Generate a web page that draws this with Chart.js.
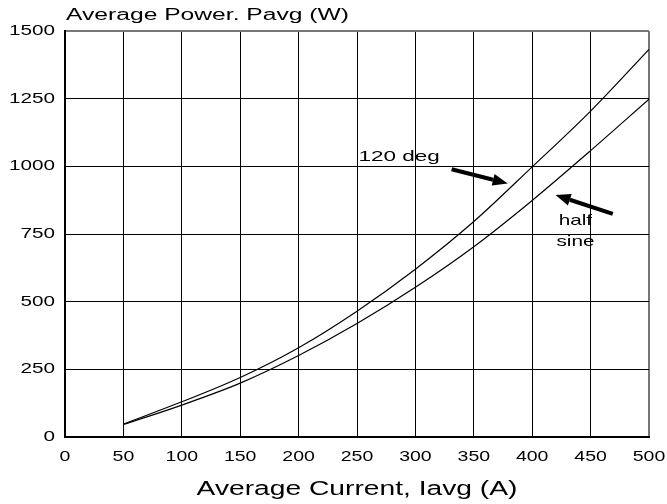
<!DOCTYPE html>
<html>
<head>
<meta charset="utf-8">
<script src="https://cdn.jsdelivr.net/npm/chart.js@4"></script>
<style>
  html, body { margin: 0; padding: 0; background: #fff; }
  #wrap { width: 667px; height: 504px; }
</style>
</head>
<body>
<div id="wrap"><canvas id="powerChart" width="667" height="504"></canvas></div>
<script>
// values
const currents = [50, 100, 150, 200, 250, 300, 350, 400, 450, 500];
const power120 = [48, 130, 220, 330, 465, 620, 796, 998, 1204, 1432];
const powerHalfSine = [46, 118, 199, 301, 419, 553, 703, 874, 1058, 1248];

const xTicks = [0, 50, 100, 150, 200, 250, 300, 350, 400, 450, 500];
const yTicks = [0, 250, 500, 750, 1000, 1250, 1500];

const yTitle = 'Average Power. Pavg (W)';
const xTitle = 'Average Current, Iavg (A)';

// annotation texts and arrows (in data units)
const notes = [
    { text: '120 deg', x: 286, y: 1034, sx: 1.5 },
    { text: 'half', x: 437, y: 797, sx: 1.38 },
    { text: 'sine', x: 437, y: 722, sx: 1.38 }
];
const arrows = [
    { from: [331, 989], to: [379, 937] },
    { from: [469, 824], to: [420, 894] }
];

const FONT = '"Liberation Sans", Arial, sans-serif';

// the original text is drawn wide, so stretch it horizontally
function wideText(ctx, text, x, y, size, sx, align) {
    ctx.save();
    ctx.font = size + 'px ' + FONT;
    ctx.textBaseline = 'middle';
    ctx.textAlign = 'left';
    ctx.fillStyle = '#000';
    const w = ctx.measureText(text).width * sx;
    let left = x;
    if (align === 'right') left = x - w;
    if (align === 'center') left = x - w / 2;
    ctx.translate(left, y);
    ctx.scale(sx, 1);
    ctx.fillText(text, 0, 0);
    ctx.restore();
}

function drawArrow(ctx, x1, y1, x2, y2) {
    const ang = Math.atan2(y2 - y1, x2 - x1);
    const headLen = 15, headW = 6;
    const bx = x2 - headLen * Math.cos(ang);
    const by = y2 - headLen * Math.sin(ang);
    ctx.save();
    ctx.strokeStyle = '#000';
    ctx.fillStyle = '#000';
    ctx.lineWidth = 4;
    ctx.beginPath();
    ctx.moveTo(x1, y1);
    ctx.lineTo(bx, by);
    ctx.stroke();
    ctx.beginPath();
    ctx.moveTo(x2, y2);
    ctx.lineTo(bx + headW * Math.sin(ang), by - headW * Math.cos(ang));
    ctx.lineTo(bx - headW * Math.sin(ang), by + headW * Math.cos(ang));
    ctx.closePath();
    ctx.fill();
    ctx.restore();
}

const textPlugin = {
    id: 'textPlugin',
    afterDraw(chart) {
        const ctx = chart.ctx;
        const xs = chart.scales.x;
        const ys = chart.scales.y;
        const area = chart.chartArea;

        yTicks.forEach(v => {
            wideText(ctx, String(v), area.left - 10, ys.getPixelForValue(v), 15, 1.38, 'right');
        });
        xTicks.forEach(v => {
            wideText(ctx, String(v), xs.getPixelForValue(v), area.bottom + 20, 15, 1.3, 'center');
        });

        wideText(ctx, yTitle, area.left + 1, area.top - 15, 16, 1.54, 'left');
        wideText(ctx, xTitle, (area.left + area.right) / 2, area.bottom + 52, 20, 1.41, 'center');

        notes.forEach(n => {
            wideText(ctx, n.text, xs.getPixelForValue(n.x), ys.getPixelForValue(n.y), 15, n.sx, 'center');
        });
        arrows.forEach(a => {
            drawArrow(ctx,
                xs.getPixelForValue(a.from[0]), ys.getPixelForValue(a.from[1]),
                xs.getPixelForValue(a.to[0]), ys.getPixelForValue(a.to[1]));
        });
    }
};

document.addEventListener('DOMContentLoaded', function () {
    const ctx = document.getElementById('powerChart').getContext('2d');

    const toPoints = arr => currents.map((c, i) => ({ x: c, y: arr[i] }));

    new Chart(ctx, {
        type: 'line',
        data: {
            datasets: [{
                label: '120 deg',
                data: toPoints(power120),
                borderColor: '#000',
                borderWidth: 1.2,
                pointRadius: 0,
                fill: false,
                cubicInterpolationMode: 'monotone'
            }, {
                label: 'half sine',
                data: toPoints(powerHalfSine),
                borderColor: '#000',
                borderWidth: 1.2,
                pointRadius: 0,
                fill: false,
                cubicInterpolationMode: 'monotone'
            }]
        },
        options: {
            responsive: false,
            animation: false,
            layout: {
                padding: { left: 65, top: 31, right: 18, bottom: 67 }
            },
            scales: {
                x: {
                    type: 'linear',
                    min: 0,
                    max: 500,
                    afterFit: s => { s.height = 0; },
                    afterBuildTicks: s => { s.ticks = xTicks.map(v => ({ value: v })); },
                    ticks: { display: false },
                    grid: {
                        drawTicks: false,
                        color: c => (c.tick && c.tick.value === 500) ? '#777' : '#000',
                        lineWidth: c => (c.tick && c.tick.value === 500) ? 2 : 1
                    },
                    border: { color: '#000', width: 2 }
                },
                y: {
                    type: 'linear',
                    min: 0,
                    max: 1500,
                    afterFit: s => { s.width = 0; },
                    afterBuildTicks: s => { s.ticks = yTicks.map(v => ({ value: v })); },
                    ticks: { display: false },
                    grid: {
                        drawTicks: false,
                        color: c => (c.tick && c.tick.value === 1500) ? '#777' : '#000',
                        lineWidth: c => (c.tick && c.tick.value === 1500) ? 2 : 1
                    },
                    border: { color: '#000', width: 2 }
                }
            },
            plugins: {
                legend: { display: false },
                tooltip: { enabled: false }
            }
        },
        plugins: [textPlugin]
    });
});
</script>
</body>
</html>
